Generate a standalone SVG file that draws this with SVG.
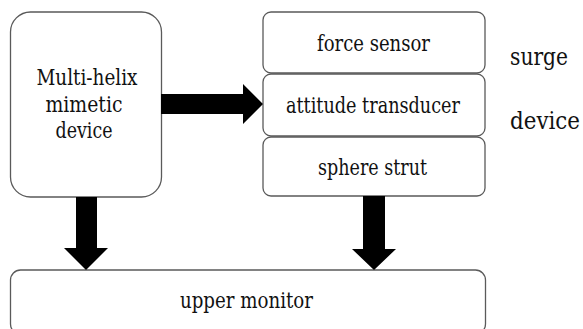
<svg xmlns="http://www.w3.org/2000/svg" width="583" height="329" viewBox="0 0 583 329">
  <style>
    .box { fill: #ffffff; stroke: #5a5a5a; stroke-width: 1.3; }
    .lbl { font-family: 'DejaVu Serif', 'Liberation Serif', serif; font-stretch: condensed; font-size: 22.5px; fill: #111111; text-anchor: middle; }
    .side { font-family: 'DejaVu Serif', 'Liberation Serif', serif; font-stretch: condensed; font-size: 23.5px; fill: #111111; }
    .arrow { fill: #000000; }
  </style>
  <rect width="583" height="329" fill="#ffffff"/>

  <g id="mimetic-device">
    <rect class="box" x="10.5" y="12" width="151" height="185" rx="20" ry="20"/>
    <text class="lbl" x="87" y="85" textLength="101" lengthAdjust="spacingAndGlyphs">Multi-helix</text>
    <text class="lbl" x="84" y="111.5" textLength="77" lengthAdjust="spacingAndGlyphs">mimetic</text>
    <text class="lbl" x="84" y="138" textLength="57" lengthAdjust="spacingAndGlyphs">device</text>
  </g>

  <g id="force-sensor">
    <rect class="box" x="263" y="12" width="222" height="61" rx="8" ry="8"/>
    <text class="lbl" x="373.5" y="51" textLength="113" lengthAdjust="spacingAndGlyphs">force sensor</text>
  </g>

  <g id="attitude-transducer">
    <rect class="box" x="263" y="74" width="222" height="62" rx="8" ry="8"/>
    <text class="lbl" x="373" y="113" textLength="174" lengthAdjust="spacingAndGlyphs">attitude transducer</text>
  </g>

  <g id="sphere-strut">
    <rect class="box" x="263" y="137" width="222" height="59" rx="8" ry="8"/>
    <text class="lbl" x="372.5" y="174.5" textLength="109" lengthAdjust="spacingAndGlyphs">sphere strut</text>
  </g>

  <g id="surge-device-label">
    <text class="side" x="510" y="65" textLength="58" lengthAdjust="spacingAndGlyphs">surge</text>
    <text class="side" x="510" y="129" textLength="70" lengthAdjust="spacingAndGlyphs">device</text>
  </g>

  <g id="upper-monitor">
    <rect class="box" x="10.5" y="270" width="475" height="64" rx="10" ry="10"/>
    <text class="lbl" x="246.5" y="308" textLength="133" lengthAdjust="spacingAndGlyphs">upper monitor</text>
  </g>

  <g id="connectors">
    <!-- block arrow: mimetic device to sensor stack -->
    <polygon class="arrow" points="161,94 243,94 243,84 263,104 243,124 243,114 161,114"/>
    <!-- block arrow: mimetic device down to upper monitor -->
    <polygon class="arrow" points="76,197 97,197 97,248 108,248 86,270 64,248 76,248"/>
    <!-- block arrow: sphere strut down to upper monitor -->
    <polygon class="arrow" points="363,196 385,196 385,249 396,249 374,270 352,249 363,249"/>
  </g>
</svg>
